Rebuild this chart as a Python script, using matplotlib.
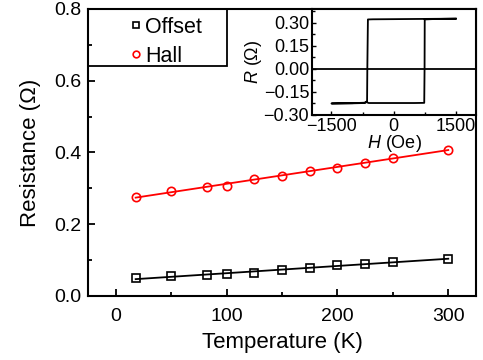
import numpy as np
import matplotlib
matplotlib.use("Agg")
import matplotlib.pyplot as plt
from matplotlib.ticker import MultipleLocator
from matplotlib.patches import Rectangle

plt.rcParams['font.family'] = ['Liberation Sans', 'DejaVu Sans']
plt.rcParams['mathtext.fontset'] = 'custom'
plt.rcParams['mathtext.it'] = 'Liberation Sans:italic'
plt.rcParams['mathtext.rm'] = 'Liberation Sans'

# Main data
T = [18, 50, 82, 100, 125, 150, 175, 200, 225, 250, 300]
R_hall = [0.275, 0.293, 0.304, 0.307, 0.326, 0.335, 0.349, 0.358, 0.372, 0.384, 0.408]
R_offset = [0.051, 0.055, 0.059, 0.060, 0.065, 0.072, 0.077, 0.087, 0.090, 0.095, 0.104]

# Inset hysteresis loop
H_loop = [1500, 1000, 500, 0, -500, -620, -634, -640, -660, -700, -1000, -1500,
          -1000, -700, -660, -600, 0, 500, 740, 748, 752, 1000, 1500]
R_loop = [0.327, 0.326, 0.325, 0.324, 0.323, 0.322, 0.0, -0.208, -0.214, -0.220, -0.223, -0.225,
          -0.224, -0.222, -0.216, -0.222, -0.222, -0.222, -0.221, 0.0, 0.322, 0.325, 0.327]

fig = plt.figure(figsize=(4.83, 3.6), dpi=100)
ax = fig.add_axes([88/483, 64/360, (476-88)/483, (296-9)/360])

Ta = np.array(T)
for R, col, mk, lab in [(R_offset, 'black', 's', 'Offset'), (R_hall, 'red', 'o', 'Hall')]:
    p = np.polyfit(Ta, np.array(R), 1)
    xs = np.array([Ta.min(), Ta.max()])
    ax.plot(xs, np.polyval(p, xs), color=col, lw=1.3, zorder=2)
    ax.plot(T, R, linestyle='none', marker=mk, mfc='none', mec=col, ms=6, mew=1.2,
            label=lab, zorder=3)

ax.set_xlim(-25, 325)
ax.set_ylim(0, 0.8)
ax.xaxis.set_major_locator(MultipleLocator(100))
ax.xaxis.set_minor_locator(MultipleLocator(50))
ax.set_yticks([0.0, 0.2, 0.4, 0.6, 0.8])
ax.set_yticklabels(['0.0', '0.2', '0.4', '0.6', '0.8'])
ax.yaxis.set_minor_locator(MultipleLocator(0.1))
ax.tick_params(which='both', direction='in', labelsize=14, width=1.3)
ax.tick_params(axis='x', pad=8.5)
ax.tick_params(axis='y', pad=5)
ax.tick_params(which='major', length=5)
ax.tick_params(which='minor', length=3)
for s in ax.spines.values():
    s.set_linewidth(1.5)
ax.set_xlabel('Temperature (K)', fontsize=16, labelpad=5)
ax.set_ylabel('Resistance (Ω)', fontsize=16, labelpad=9)

# Legend: entries without frame, plus a separate square frame
W, Hh = 388.0, 287.0
leg = ax.legend(loc='upper left', bbox_to_anchor=((128 - 88) / W, 1 - 8 / Hh), borderaxespad=0,
                fontsize=15.5, frameon=False, handlelength=0.7, handletextpad=0.08,
                borderpad=0, labelspacing=0.35, markerscale=0.8)
ax.add_patch(Rectangle((0, 1 - (66 - 9) / Hh), (227 - 88) / W, (66 - 9) / Hh,
                       transform=ax.transAxes, fill=False, edgecolor='black', lw=1.3,
                       zorder=5, clip_on=False))

# Inset
ins = fig.add_axes([312/483, (360-115)/360, (476-312)/483, (115-9)/360])
ins.plot(H_loop, R_loop, color='black', lw=1.3)
ins.axhline(0, color='black', lw=1.3)
ins.set_xlim(-1970, 1990)
ins.set_ylim(-0.30, 0.39)
ins.set_xticks([-1500, 0, 1500])
ins.set_xticklabels(['−1500', '0', '1500'])
ins.set_yticks([-0.30, -0.15, 0.0, 0.15, 0.30])
ins.set_yticklabels(['−0.30', '−0.15', '0.00', '0.15', '0.30'])
ins.xaxis.set_minor_locator(MultipleLocator(750))
ins.yaxis.set_minor_locator(MultipleLocator(0.075))
ins.tick_params(which='both', direction='in', labelsize=13, width=1.0, pad=2)
ins.tick_params(which='major', length=3)
ins.tick_params(which='minor', length=2)
for s in ins.spines.values():
    s.set_linewidth(1.5)
ins.set_xlabel('$\\mathit{H}$ (Oe)', fontsize=13, labelpad=-1)
ins.set_ylabel('$\\mathit{R}$ (Ω)', fontsize=13, labelpad=0)

fig.savefig('out.png', dpi=100)
